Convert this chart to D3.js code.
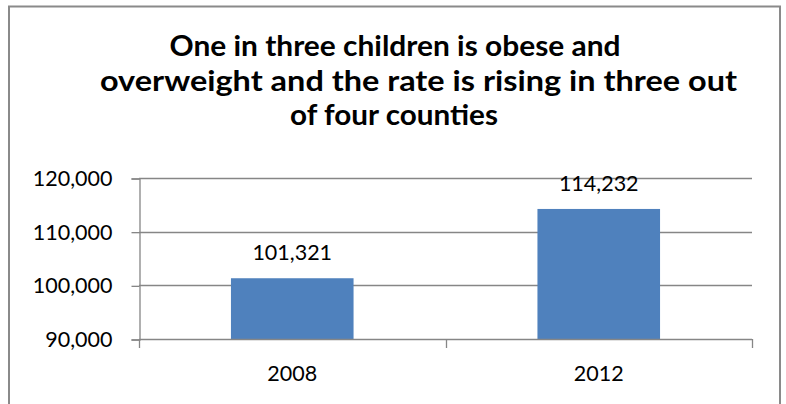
<!DOCTYPE html>
<html>
<head>
<meta charset="utf-8">
<script src="https://cdn.jsdelivr.net/npm/d3@7"></script>
<style>
  html, body { margin: 0; padding: 0; background: #fff; }
  svg { display: block; }
  text { font-family: Lato, "Open Sans", sans-serif; fill: #000; }
</style>
</head>
<body>
<svg id="chart" width="786" height="404"></svg>
<script>
const titleLines = [
  "One in three children is obese and",
  "overweight and the rate is rising in three out",
  "of four counties"
];
const categories = ["2008", "2012"];
const values = [101321, 114232];
const yTicks = [90000, 100000, 110000, 120000];

const svg = d3.select("#chart");
const plot = { left: 139, right: 752, top: 178, bottom: 339 };
const grid = "#868686";

// chart border
svg.append("rect")
  .attr("x", 9).attr("y", 6.5)
  .attr("width", 771).attr("height", 420)
  .attr("fill", "#fff")
  .attr("stroke", "#8a8a8a").attr("stroke-width", 2);

// title
const titleGeom = [
  { cx: 395, base: 56, len: 451 },
  { cx: 418.5, base: 90.5, len: 637 },
  { cx: 394, base: 125, len: 208 }
];
svg.append("g").selectAll("text")
  .data(titleLines)
  .join("text")
  .attr("x", (d, i) => titleGeom[i].cx)
  .attr("y", (d, i) => titleGeom[i].base)
  .attr("text-anchor", "middle")
  .attr("font-size", 28)
  .attr("font-weight", 700)
  .attr("textLength", (d, i) => titleGeom[i].len)
  .attr("lengthAdjust", "spacingAndGlyphs")
  .text(d => d);

const x = d3.scaleBand()
  .domain(categories)
  .range([plot.left, plot.right])
  .paddingInner(0.6)
  .paddingOuter(0.3);

const y = d3.scaleLinear()
  .domain([90000, 120000])
  .range([plot.bottom, plot.top]);

// gridlines
svg.append("g").selectAll("line")
  .data(yTicks.filter(t => t !== 90000))
  .join("line")
  .attr("x1", plot.left).attr("x2", plot.right)
  .attr("y1", d => Math.round(y(d)) + 0.5)
  .attr("y2", d => Math.round(y(d)) + 0.5)
  .attr("stroke", grid).attr("stroke-width", 1.3);

// y axis
const yAxis = d3.axisLeft(y)
  .tickValues(yTicks)
  .tickSize(8)
  .tickPadding(19)
  .tickFormat(d3.format(","));
const gy = svg.append("g")
  .attr("transform", `translate(${plot.left + 0.5},0.5)`)
  .call(yAxis);
gy.select(".domain").attr("stroke", grid).attr("stroke-width", 1.3);
gy.selectAll(".tick line").attr("stroke", grid).attr("stroke-width", 1.3);
gy.selectAll(".tick text")
  .attr("font-family", "Lato, sans-serif")
  .attr("font-size", 21.5)
  .attr("fill", "#000");

// bars
const bw = x.bandwidth();
svg.append("g").selectAll("rect")
  .data(values)
  .join("rect")
  .attr("x", (d, i) => x(categories[i]))
  .attr("y", d => y(d))
  .attr("width", bw)
  .attr("height", d => y(90000) - y(d))
  .attr("fill", "#4F81BD");

// x axis baseline and category ticks
const boundaries = [plot.left, plot.left + (plot.right - plot.left) / 2, plot.right];
svg.append("line")
  .attr("x1", plot.left).attr("x2", plot.right)
  .attr("y1", y(90000) + 0.5).attr("y2", y(90000) + 0.5)
  .attr("stroke", grid).attr("stroke-width", 1.3);
svg.append("g").selectAll("line")
  .data(boundaries)
  .join("line")
  .attr("x1", d => Math.round(d) + 0.5).attr("x2", d => Math.round(d) + 0.5)
  .attr("y1", y(90000)).attr("y2", y(90000) + 9)
  .attr("stroke", grid).attr("stroke-width", 1.3);

// category labels
svg.append("g").selectAll("text")
  .data(categories)
  .join("text")
  .attr("x", d => x(d) + x.bandwidth() / 2)
  .attr("y", 381)
  .attr("text-anchor", "middle")
  .attr("font-size", 21.5)
  .text(d => d);

// value labels
svg.append("g").selectAll("text")
  .data(values)
  .join("text")
  .attr("x", (d, i) => x(categories[i]) + bw / 2)
  .attr("y", d => y(d) - 18)
  .attr("text-anchor", "middle")
  .attr("font-size", 21.5)
  .text(d => d3.format(",")(d));
</script>
</body>
</html>
